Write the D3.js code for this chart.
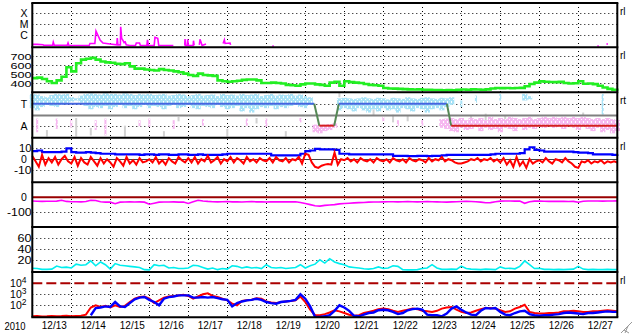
<!DOCTYPE html>
<html><head><meta charset="utf-8">
<script src="https://cdn.jsdelivr.net/npm/d3@7/dist/d3.min.js"></script>
<style>
body{margin:0;background:#fff;overflow:hidden}
svg{display:block}
text{font-family:"Liberation Sans",Arial,Helvetica,sans-serif;fill:#000}
</style></head>
<body><svg width="633" height="334"></svg>
<script>
// ---------------- DATA ----------------
const yearLabel = "2010";
const dayLabels = ["12/13","12/14","12/15","12/16","12/17","12/18","12/19","12/20","12/21","12/22","12/23","12/24","12/25","12/26","12/27"];

// X-ray flux (log10 W/m2), hours from 12/13 00:00, null = gap
const xrayHours = [0.2,3,6.6,7,12.5,12.9,13.5,21.5,22,22.5,35,35.5,38.5,39.2,40.3,41.7,43.5,47.8,52,52.3,52.7,54.2,54.4,55,55.6,56.5,57.2,57.8,60,63.5,64,66,66.5,70.5,70.9,71.4,75,75.5,77.2,77.8,86.8,null,
  93.8,94,94.3,95.4,95.6,96,99,99.2,99.6,null,
  102.8,103.2,104,104.5,106.9,null,
  117.4,118.2,118.6,121.7,122,null,
  147.7,148.6,null,347.7,348.6,null,353.3,354.3];
const xrayLog = [-6.85,-6.85,-6.88,-6.94,-6.94,-6.66,-6.94,-6.94,-6.73,-6.95,-6.95,-6.77,-6.77,-5.64,-6.0,-6.45,-6.73,-6.82,-6.9,-6.27,-6.9,-6.9,-5.25,-6.3,-6.45,-6.7,-6.64,-6.9,-6.95,-6.95,-6.73,-6.73,-6.95,-6.95,-6.45,-6.95,-6.95,-6.21,-6.3,-6.95,-6.95,null,
  -6.95,-6.36,-6.95,-6.95,-6.4,-6.95,-6.95,-6.52,-6.95,null,
  -6.9,-6.39,-6.73,-6.95,-6.82,null,
  -6.77,-6.45,-6.77,-6.73,-6.9,null,
  -7.0,-7.0,null,-7.0,-7.0,null,-6.82,-6.82];
const xrayTicks = [-4,-5,-6];
const xrayTickLabels = ["X","M","C"];

// Solar wind speed (km/s), every 3 h
const speed = [455,460,445,420,400,430,470,575,530,620,
 660,670,680,660,640,630,625,615,610,620,
 585,560,560,550,545,540,555,545,540,530,
 520,505,490,480,505,490,485,480,430,420,
 415,420,425,435,440,440,430,400,400,405,
 400,395,380,375,370,385,395,395,385,380,
 370,405,415,370,420,410,405,400,390,380,
 375,370,345,340,338,335,332,330,328,330,
 326,325,322,322,320,322,318,324,328,326,
 330,328,325,330,340,345,343,345,342,345,
 346,365,390,405,418,415,412,410,415,400,
 395,398,420,392,395,388,370,350,335,325,
 338];
const speedTicks = [700,600,500,400];

// IMF sector: toward(+1)/away(-1), days
const sectorDays = [0,7.23,7.36,7.74,7.86,10.63,10.74,15];
const sectorVals = [1,1,-1,-1,1,1,-1,-1];
const sectorTicks = [1,-1];
const sectorTickLabels = ["T","A"];
// IMF phi spread (3 h bins), toward-side (light blue)
const phiTowardHi = [1.9,1.85,1.7,1.6,1.8,1.9,1.85,1.9,1.6,1.5,
1.75,1.9,1.95,1.9,1.85,1.95,1.9,1.9,1.85,1.95,
1.9,1.8,1.9,1.85,1.9,1.8,1.85,1.9,1.75,1.8,
1.9,1.85,1.7,1.8,1.9,1.75,1.8,1.85,1.7,1.9,
1.8,1.85,1.75,1.9,1.8,1.85,1.9,1.7,1.8,1.9,
1.75,1.85,1.8,1.9,1.75,1.85,1.7,1.6,null,null,
null,null,null,1.5,1.55,1.5,1.45,1.5,1.6,1.5,
1.45,1.55,1.5,1.4,1.55,1.5,1.45,1.6,1.5,1.45,
1.55,1.6,1.5,1.45,1.55,1.5,1.6,null,1.3,null,
null,1.75,null,null,null,null,1.9,null,null,null,
null,1.9,1.7,null,null,null,null,null,null,null,
null,null,null,null,null,null,null,1.9,null,null,
null];
const phiTowardLo = [0.6,0.4,0.7,0.9,0.8,0.7,0.9,1.0,1.2,1.3,
1.1,0.8,0.5,0.7,0.6,0.8,0.5,0.7,0.9,0.6,
0.8,0.5,0.7,0.9,0.6,0.8,0.7,0.5,0.8,0.9,
0.6,0.7,0.9,0.6,0.5,0.8,0.7,0.6,0.9,0.7,
0.5,0.6,0.8,0.3,0.6,0.2,0.5,0.7,0.6,0.8,
0.5,0.7,0.6,0.8,0.9,0.7,0.6,0.9,null,null,
null,null,null,0.4,0.6,0.5,0.3,0.6,0.4,0.2,
0.5,0.3,0.6,0.4,0.5,0.2,0.6,0.5,0.3,0.6,
0.5,0.2,0.5,0.6,0.4,0.7,0.9,null,0.7,null,
null,1.1,null,null,null,null,1.3,null,null,null,
null,1.3,1.4,null,null,null,null,null,null,null,
null,null,null,null,null,null,null,0.0,null,null,
null];
// away-side (pink), sparse 3 h bins
const phiAwayBin = [1,5,8,13,15,22,24,29,35,44,48,55,58,59,60,61,62,72,75,80,84,85,
 86,87,88,89,90,91,92,93,94,95,96,97,98,99,100,101,102,103,104,105,106,107,108,109,110,111,112,113,114,115,116,117,118,119,120];
const phiAwayHi = [-0.35,-0.35,-0.5,-0.5,-0.35,-0.5,-0.35,-0.5,-0.4,-0.35,-0.35,-0.3,-0.9,-0.95,-0.9,-0.85,-0.8,-0.2,-0.5,-0.5,-0.4,-0.35,
 -0.3,-0.4,-0.3,-0.5,-0.3,-0.4,-0.3,-0.5,-0.2,-0.4,-0.3,-0.4,-0.2,-0.3,-0.4,-0.3,-0.2,-0.4,-0.3,-0.2,-0.3,-0.2,-0.3,-0.2,-0.3,-0.2,-0.3,-0.2,-0.3,-0.4,-0.3,-0.4,-0.3,-0.4,-0.5];
const phiAwayLo = [-1.6,-1.3,-1.2,-1.4,-1.9,-1.1,-1.1,-1.3,-1.0,-1.0,-1.1,-0.7,-1.6,-1.7,-1.5,-1.4,-1.2,-0.6,-1.0,-1.0,-1.2,-1.3,
 -1.5,-1.6,-1.2,-1.4,-1.3,-1.1,-1.5,-1.2,-1.4,-1.3,-1.6,-1.2,-1.3,-1.5,-1.1,-1.4,-1.2,-1.3,-1.1,-1.2,-1.0,-1.2,-1.1,-1.3,-1.0,-1.2,-1.4,-1.1,-1.3,-1.5,-1.2,-1.6,-1.4,-1.7,-1.5];
// undetermined (gray), sparse 3 h bins
const phiOtherBin = [3,9,12,19,27,30,40,46,52,63,70,74,77,90,93,97,113];
const phiOtherHi = [-1.4,-0.3,-1.2,-1.0,-1.5,-0.2,-1.3,-0.3,-1.5,2.0,0.5,0.0,-0.1,-0.1,0.1,-0.05,0.2];
const phiOtherLo = [-2.0,-2.0,-1.9,-2.0,-2.0,-0.6,-2.0,-0.8,-2.0,1.6,-0.1,-0.7,-0.6,-0.9,-0.5,-0.9,-0.1];

// IMF Bt (nT), every 3 h
const bt = [7.5,8,6.5,6.5,6.5,6.5,7,10,6.5,6,
 6,6.5,6,5.5,5,5,5,4.5,4.5,4.5,
 4.5,4.5,4,4.5,4.5,4,4.5,4.5,4,4,
 4.5,4.5,4,4,4.5,4,4,4,4,4.5,
 5,5,5,5,5,5,5,5,5,3.5,
 3.5,3.5,3.5,3.5,3.5,5,7.5,8,9.5,9,
 9,9,8.5,5,5,4.5,4.5,4.5,4.5,4.5,
 4.5,4.5,4.5,4.5,3,3,3,2.8,2.8,3,
 3,2.8,3,3,3.5,4,4,4,4,4,
 4,4,4,4,4.5,5,5,5,5,5,
 5.5,9,11,8.5,8,7,7,7,7,7,
 7,6.5,6,6,5.5,4.5,4.5,4.5,4.5,4,
 4.5];
// IMF Bz (nT), every 2 h
const bz = [3,-2,-7,4,-5,1,-3,2,-5,0,3,-2,
 -4,2,-6,1,-3,-5,2,-2,-6,1,-4,0,
 -3,-7,1,-2,-6,2,-4,-1,-5,1,-3,-2,
 0,-3,2,-4,-1,-5,1,-2,-4,2,-1,-3,
 1,-3,2,-4,0,-2,3,-3,-1,2,-4,0,
 -2,2,-3,1,-1,-4,2,-2,0,-3,1,-1,
 -2,1,-3,2,-1,-2,1,-3,0,-1,2,-4,
 5,4,-3,-7,-8,-6,-5,-4.5,-5,6,-5,0,
 -1,1,-2,0,-3,1,-1,-2,0,-3,1,-1,
 -2,0,-3,1,-1,-2,0,-3,1,-1,-2,0,
 -1,-3,1,-2,0,-1,2,-2,0,-1,-3,-4,
 -4,-3,-2,0,-1,1,-2,0,-1,1,-2,0,
 -3,1,-5,-1,-7,2,-6,-2,-8,0,-4,-2,
 -1,-3,1,-2,-4,0,-1,-3,1,-2,-4,-7,
 -8,-2,-3,-1,-4,-2,-3,-1,-4,-2,-3,-2,-3];
const bTicks = [10,0,-10];

// Dst (nT), every 3 h
const dst = [-25,-27,-28,-27,-27,-26,-20,-28,-30,-30,
 -31,-29,-20,-22,-30,-33,-33,-44,-33,-32,
 -31,-32,-31,-33,-47,-40,-33,-32,-32,-31,
 -33,-32,-42,-30,-20,-25,-28,-30,-31,-30,
 -29,-31,-30,-32,-30,-29,-31,-30,-32,-31,
 -30,-31,-30,-31,-30,-35,-42,-50,-58,-60,
 -55,-52,-50,-45,-42,-40,-38,-36,-35,-33,
 -32,-32,-31,-30,-30,-31,-30,-29,-30,-31,
 -30,-29,-30,-31,-32,-33,-31,-30,-29,-28,
 -29,-30,-33,-37,-36,-30,-26,-25,-25,-26,
 -26,-41,-30,-26,-26,-27,-28,-28,-28,-28,
 -29,-28,-34,-27,-25,-25,-25,-26,-25,-25,
 -24];
const dstTicks = [0,-100];

// Proton density (p/cc), every 3 h
const density = [5.5,5,3.5,3.5,4,9.5,7,7.5,6,13,
 11,12,19,10,17,12,4,14,11,10,
 9,8,7,3,2.5,12,10,11,6,7,
 5,5,6,11,10,7,4,6,3,5,
 4,10,9,6,8,6,7,5,12,7,
 6,7,5,6,7,12,6,10,13,21,
 15,23,17,14,12,8,7,6,4.5,4,
 5,8,5,6,10,9,3,2.5,2.5,3,
 5,6,12,6,3.5,3.5,4,3.5,9.5,5,
 4,3.5,3,4,3.5,3,8,5,5.5,4.5,
 9,19,12,5,5.5,3.5,3.5,3,3.5,3,
 3.5,4,9,4,3,3.5,3,3,3.5,3,
 3];
const densityTicks = [60,40,20];

// Electron flux (log10), every 3 h: two satellites
const fluxRed = [1.0,1.02,0.98,1.0,1.03,1.0,1.02,1.05,1.0,1.03,
 1.05,1.15,1.8,2.0,1.85,1.95,1.8,2.0,1.85,1.95,
 2.3,2.6,2.75,2.8,2.6,2.2,2.45,2.7,2.8,2.85,
 2.9,2.95,2.85,2.6,2.8,3.0,3.1,2.85,2.75,2.6,
 2.45,2.15,2.0,2.4,2.45,2.5,2.65,2.6,2.35,2.25,
 2.2,2.3,2.35,2.4,2.45,2.8,2.3,1.6,1.1,1.1,
 1.2,1.35,1.55,1.45,1.3,1.15,1.05,1.1,1.3,1.4,
 1.5,1.65,1.7,1.65,1.5,1.4,1.5,1.6,1.7,1.65,
 1.5,1.45,1.4,1.5,1.7,1.8,1.85,1.6,1.4,1.3,
 1.35,1.5,1.65,1.75,1.75,1.7,1.55,1.4,1.45,1.7,
 1.85,2.05,1.4,1.3,1.25,1.25,1.3,1.3,1.35,1.45,
 1.45,1.5,1.45,1.4,1.4,1.45,1.45,1.5,1.55,1.5,
 1.45];
const fluxBlue = [null,null,null,null,null,null,null,null,null,null,
 null,null,1.1,1.75,1.8,1.9,1.85,2.3,1.9,1.85,
 2.2,2.55,2.7,2.75,2.5,2.3,2.0,2.6,2.75,2.8,
 2.9,2.9,2.9,2.7,2.7,2.75,2.7,2.75,2.65,2.55,
 2.5,1.9,2.2,2.35,2.45,2.5,2.6,2.5,2.3,2.2,
 2.15,2.3,2.35,2.4,2.5,3.0,2.6,1.9,0.95,0.95,
 1.0,1.1,1.5,2.0,1.8,1.5,1.05,1.0,1.15,1.3,
 1.35,1.55,1.6,1.55,1.4,1.2,1.3,1.55,1.65,1.7,
 1.6,1.15,1.1,1.1,1.0,1.25,1.7,1.9,1.6,1.35,
 1.15,1.1,1.5,1.75,1.7,1.75,1.4,1.15,1.1,1.3,
 1.45,1.5,1.2,1.1,1.05,1.1,1.1,1.15,1.2,1.3,
 1.35,1.3,1.25,1.2,1.3,1.3,1.35,1.4,1.45,1.4,
 1.4];
const fluxTicks = [4,3,2];
const fluxAlert = 4;

// ---------------- CHART ----------------
const svg = d3.select("svg");
const X0 = 32.3, X1 = 617.3;
const x = d3.scaleLinear().domain([0, 15]).range([X0, X1]);
const px = v => Math.round(v) + 0.5;
const bounds = [3, 47.3, 92.3, 137.7, 182.3, 227, 272, 317.3];
const FONT = '"Liberation Sans",Arial,sans-serif';

const yX = d3.scaleLinear().domain([-7.12, -3.09]).range([47.3, 3]);
const yV = d3.scaleLinear().domain([297, 797]).range([92.3, 47.3]);
const yS = d3.scaleLinear().domain([-2.1, 2.05]).range([137.7, 92.3]);
const yB = d3.scaleLinear().domain([-21.3, 19.8]).range([182.3, 137.7]);
const yD = d3.scaleLinear().domain([-202, 102]).range([227, 182.3]);
const yN = d3.scaleLinear().domain([-1.3, 80.7]).range([272, 227]);
const yF = d3.scaleLinear().domain([0.91, 5.03]).range([317.3, 272]);

// speckle patterns for the phi spread
const defs = svg.append("defs");
function speckle(id, color) {
  const p = defs.append("pattern").attr("id", id).attr("patternUnits", "userSpaceOnUse")
    .attr("width", 4).attr("height", 5);
  p.append("rect").attr("width", 4).attr("height", 5).attr("fill", color);
  p.append("rect").attr("x", 3).attr("y", 1).attr("width", 1).attr("height", 2).attr("fill", "#fff");
  p.append("rect").attr("x", 1).attr("y", 4).attr("width", 1).attr("height", 1).attr("fill", "#fff");
}
speckle("pc", "#a8e2f6");
speckle("pp", "#f6b8f0");

const gGrid = svg.append("g");
const gData = svg.append("g");
const gFrame = svg.append("g");
const gText = svg.append("g");

function hgrid(scale, vals) {
  gGrid.selectAll(null).data(vals).enter().append("line")
    .attr("x1", X0).attr("x2", X1)
    .attr("y1", d => px(scale(d))).attr("y2", d => px(scale(d)))
    .attr("stroke", "#000").attr("stroke-width", 1).attr("stroke-dasharray", "1,3");
}
hgrid(yX, xrayTicks);
hgrid(yV, speedTicks);
hgrid(yS, sectorTicks);
hgrid(yB, [10, -10]);
hgrid(yD, [-100]);
hgrid(yN, densityTicks);
hgrid(yF, [3, 2]);
gGrid.selectAll(null).data(d3.range(1, 15)).enter().append("line")
  .attr("x1", d => px(x(d))).attr("x2", d => px(x(d)))
  .attr("y1", 3).attr("y2", 317.3)
  .attr("stroke", "#000").attr("stroke-width", 1).attr("stroke-dasharray", "1,3");

const step3 = i => i * 0.125, step2 = i => i / 12;
function series(vals, tfn, scale, color, w, curve) {
  const pts = vals.map((v, i) => [tfn(i), v]);
  gData.append("path").datum(pts)
    .attr("d", d3.line().defined(d => d[1] != null).curve(curve || d3.curveLinear)
      .x(d => x(d[0])).y(d => scale(d[1])))
    .attr("fill", "none").attr("stroke", color).attr("stroke-width", w);
}

// Panel 1: X-ray
series(xrayLog, i => xrayHours[i] == null ? 0 : xrayHours[i] / 24, yX, "#ff00ff", 1.6);

// Panel 2: speed
series(speed, step3, yV, "#22ee22", 2.6, d3.curveStepAfter);

// Panel 3: sector + phi spread
function bars(bins, hi, lo, fill) {
  const set = new Set(bins.filter((b, k) => hi[k] != null));
  const d = bins.map((b, k) => ({b, h: hi[k], l: lo[k]})).filter(o => o.h != null);
  const wide = o => set.has(o.b - 1) || set.has(o.b + 1);
  gData.selectAll(null).data(d).enter().append("rect")
    .attr("x", o => wide(o) ? x(step3(o.b)) - 2.5 : x(step3(o.b)) - 1)
    .attr("width", o => wide(o) ? 5.2 : 2)
    .attr("y", o => yS(o.h)).attr("height", o => yS(o.l) - yS(o.h))
    .attr("fill", fill);
}
bars(phiOtherBin, phiOtherHi, phiOtherLo, "#d2d2d2");
bars(phiTowardHi.map((v, i) => i), phiTowardHi, phiTowardLo, "url(#pc)");
bars(phiAwayBin, phiAwayHi, phiAwayLo, "url(#pp)");
gData.append("line").attr("x1", X0).attr("x2", X1)
  .attr("y1", px(yS(0))).attr("y2", px(yS(0)))
  .attr("stroke", "#808080").attr("stroke-width", 2);
for (let k = 0; k < sectorDays.length - 1; k++) {
  const a = sectorVals[k], b = sectorVals[k + 1];
  const col = (a === 1 && b === 1) ? "#4466e0" : (a === -1 && b === -1) ? "#d42020" : "#558855";
  gData.append("line")
    .attr("x1", x(sectorDays[k])).attr("x2", x(sectorDays[k + 1]))
    .attr("y1", yS(a)).attr("y2", yS(b))
    .attr("stroke", col).attr("stroke-width", 2);
}

// Panel 4: Bt / Bz
gData.append("line").attr("x1", X0).attr("x2", X1)
  .attr("y1", px(yB(0))).attr("y2", px(yB(0)))
  .attr("stroke", "#444").attr("stroke-width", 1);
series(bt, step3, yB, "#0000ff", 2.2, d3.curveStepAfter);
series(bz, step2, yB, "#ff0000", 2);

// Panel 5: Dst
gData.append("line").attr("x1", X0).attr("x2", X1)
  .attr("y1", yD(0)).attr("y2", yD(0))
  .attr("stroke", "#990000").attr("stroke-width", 2);
series(dst, step3, yD, "#ff00ff", 1.6);

// Panel 6: density
series(density, step3, yN, "#00eeee", 1.6);

// Panel 7: flux
gData.append("line").attr("x1", X0).attr("x2", X1)
  .attr("y1", yF(fluxAlert)).attr("y2", yF(fluxAlert))
  .attr("stroke", "#aa0000").attr("stroke-width", 2).attr("stroke-dasharray", "10,4");
series(fluxRed, step3, yF, "#ff0000", 2);
series(fluxBlue, step3, yF, "#0000ff", 2.4);

// frame
gFrame.selectAll(null).data(bounds).enter().append("line")
  .attr("x1", X0 - 1).attr("x2", X1 + 1).attr("y1", d => d).attr("y2", d => d)
  .attr("stroke", "#000").attr("stroke-width", 2);
gFrame.selectAll(null).data([X0, X1]).enter().append("line")
  .attr("x1", d => d).attr("x2", d => d).attr("y1", 3).attr("y2", 317.3)
  .attr("stroke", "#000").attr("stroke-width", 2);

// y axes (labels only)
const charW = c => c === "-" ? 5 : c === "1" ? 5.5 : 7;
function yaxis(scale, vals, fmt, fs) {
  const g = gText.append("g").attr("transform", `translate(${X0 - 0.8},0)`)
    .call(d3.axisLeft(scale).tickValues(vals).tickFormat(fmt).tickSize(0).tickPadding(0));
  g.select(".domain").remove();
  g.selectAll("text").attr("font-size", fs || 10.5).attr("fill", "#000").attr("font-family", FONT)
    .each(function () {
      const t = d3.select(this), s = t.text();
      if (s.length === 1) t.attr("text-anchor", "middle").attr("x", -7.5);
      else t.attr("textLength", d3.sum(s.split(""), charW)).attr("lengthAdjust", "spacingAndGlyphs");
    });
  return g;
}
yaxis(yX, xrayTicks, (d, i) => xrayTickLabels[i]);
yaxis(yV, speedTicks, d => d, 9.5);
yaxis(yS, sectorTicks, (d, i) => sectorTickLabels[i]);
yaxis(yB, bTicks, d => d);
yaxis(yD, dstTicks, d => d);
yaxis(yN, densityTicks, d => d);
yaxis(yF, fluxTicks, d => "10").selectAll("text").each(function (d) {
  d3.select(this).attr("x", -5).attr("textLength", null)
    .append("tspan").attr("dy", "-0.45em").attr("font-size", 8.5).text(d);
});

// x axis
const gx = gText.append("g").attr("transform", `translate(2,317.3)`)
  .call(d3.axisBottom(x).tickValues(d3.range(15).map(d => d + 0.5))
    .tickFormat((d, i) => dayLabels[i]).tickSize(0).tickPadding(4));
gx.select(".domain").remove();
gx.selectAll("text").attr("font-size", 11).attr("fill", "#000").attr("font-family", FONT)
  .attr("textLength", 25).attr("lengthAdjust", "spacingAndGlyphs");
gText.append("text").attr("x", 15).attr("y", 330).attr("text-anchor", "middle")
  .attr("font-size", 11).attr("textLength", 21).attr("lengthAdjust", "spacingAndGlyphs").text(yearLabel);

// right-edge markers
const markerTops = [3, 47.3, 92.3, 137.7, 272];
const markerText = ["rl", "rl", "rt", "rl", "rl"];
gText.selectAll(null).data(markerTops).enter().append("text")
  .attr("x", 620).attr("y", d => d + 12).attr("font-size", 10)
  .attr("font-family", '"DejaVu Sans",sans-serif').text((d, i) => markerText[i]);

// resize grip
gText.selectAll(null).data([0, 4, 8]).enter().append("line")
  .attr("x1", d => 632 - d).attr("y1", d => 322 + d)
  .attr("x2", d => 621 + d).attr("y2", 333)
  .attr("stroke", "#999").attr("stroke-width", 1);
</script></body></html>
